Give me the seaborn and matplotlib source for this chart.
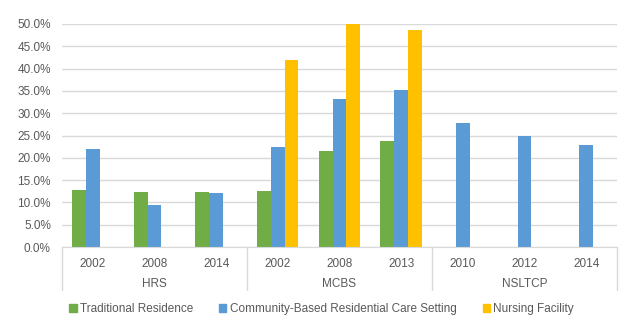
import matplotlib
matplotlib.use("Agg")
import matplotlib.pyplot as plt
import matplotlib.transforms as mtransforms
import pandas as pd
import seaborn as sns

# Survey / year categories
surveys = ["HRS", "HRS", "HRS", "MCBS", "MCBS", "MCBS", "NSLTCP", "NSLTCP", "NSLTCP"]
years = ["2002", "2008", "2014", "2002", "2008", "2013", "2010", "2012", "2014"]

series = ["Traditional Residence", "Community-Based Residential Care Setting", "Nursing Facility"]
traditional = [12.9, 12.4, 12.3, 12.6, 21.6, 23.7, None, None, None]
community = [21.9, 9.4, 12.1, 22.5, 33.2, 35.3, 27.9, 24.9, 22.9]
nursing = [None, None, None, 41.9, 50.0, 48.7, None, None, None]

colors = ["#70AD47", "#5B9BD5", "#FFC000"]

rows = []
keys = [f"{s} {y}" for s, y in zip(surveys, years)]
for name, vals in zip(series, [traditional, community, nursing]):
    for k, v in zip(keys, vals):
        if v is not None:
            rows.append({"cat": k, "series": name, "value": v})
df = pd.DataFrame(rows)

sns.set_style("white")
plt.rcParams["font.family"] = ["Liberation Sans", "DejaVu Sans"]
text_color = "#595959"
grid_color = "#D9D9D9"

fig = plt.figure(figsize=(6.37, 3.33), dpi=100)
ax = fig.add_axes([0.0973, 0.258, 0.8713, 0.670])

sns.barplot(data=df, x="cat", y="value", hue="series", order=keys, hue_order=series,
            palette=colors, width=0.67, saturation=1, linewidth=0, ax=ax, legend=False)

ax.set_ylim(0, 50)
ax.set_xlim(-0.5, len(keys) - 0.5)
ax.set_yticks(range(0, 51, 5))
ax.set_yticklabels([f"{v:.1f}%" for v in range(0, 51, 5)])
ax.yaxis.grid(True, color=grid_color, linewidth=1)
ax.set_axisbelow(True)
for side in ["top", "right", "left"]:
    ax.spines[side].set_visible(False)
ax.spines["bottom"].set_color(grid_color)
ax.tick_params(axis="both", length=0, labelsize=8.5, labelcolor=text_color)
ax.tick_params(axis="y", pad=8)
ax.tick_params(axis="x", pad=8)
ax.set_xticks(range(len(keys)))
ax.set_xticklabels(years)
ax.set_xlabel("")
ax.set_ylabel("")

# group labels and separators below the axis
trans = mtransforms.blended_transform_factory(ax.transData, ax.transAxes)
axis_h_px = 0.670 * 333
sep_bottom = -(290 - 247) / axis_h_px
label_y = -(283.5 - 247) / axis_h_px
groups = ["HRS", "MCBS", "NSLTCP"]
for i, g in enumerate(groups):
    ax.text(i * 3 + 1, label_y, g, transform=trans, ha="center", va="center",
            fontsize=8.5, color=text_color)
for xb in [-0.5, 2.5, 5.5, 8.5]:
    ax.plot([xb, xb], [0, sep_bottom], transform=trans, color=grid_color,
            linewidth=1, clip_on=False)

handles = [plt.Rectangle((0, 0), 1, 1, color=c) for c in colors]
fig.legend(handles, series, loc="center", bbox_to_anchor=(0.505, 0.072), ncol=3,
           frameon=False, fontsize=8.5, labelcolor=text_color, handlelength=0.6,
           handleheight=0.6, handletextpad=0.3, columnspacing=2.2)

fig.savefig("out.png", dpi=100)
